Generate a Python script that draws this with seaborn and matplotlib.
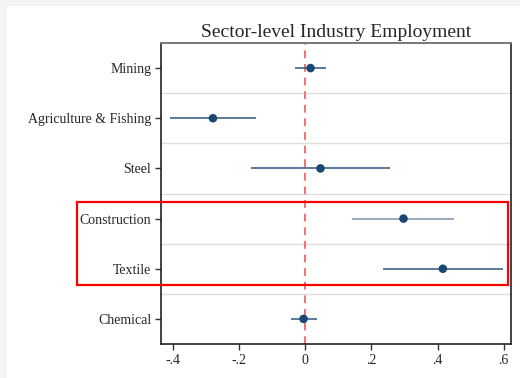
"""
Coefficient plot: sector-level industry employment
"""
import matplotlib
matplotlib.use('Agg')
import matplotlib.pyplot as plt
from matplotlib.patches import Rectangle
import seaborn as sns
import pandas as pd

sectors = ["Mining", "Agriculture & Fishing", "Steel", "Construction", "Textile", "Chemical"]
coef = [0.016, -0.279, 0.046, 0.297, 0.416, -0.005]
ci_low = [-0.031, -0.408, -0.164, 0.141, 0.236, -0.044]
ci_high = [0.063, -0.149, 0.256, 0.451, 0.598, 0.035]
x_ticks = [-0.4, -0.2, 0, 0.2, 0.4, 0.6]
x_labels = ["-.4", "-.2", "0", ".2", ".4", ".6"]

df = pd.DataFrame({"sector": sectors, "coef": coef, "lo": ci_low, "hi": ci_high})
df["pos"] = range(len(df))

sns.set_style("white")
plt.rcParams['font.family'] = ['Liberation Serif', 'DejaVu Serif']

fig = plt.figure(figsize=(5.2, 3.78), dpi=100, facecolor='#f4f4f4')
# white panel inside the light grey outer border
fig.patches.append(Rectangle((7 / 520, 0), 1, 372 / 378, transform=fig.transFigure,
                             facecolor='white', edgecolor='none', zorder=-10))
ax = fig.add_axes([161 / 520, 34 / 378, 350 / 520, 301 / 378])
ax.set_facecolor('white')

# confidence intervals
line_colors = ['#2b5680'] * len(df)
line_colors[3] = '#7893ab'
ax.hlines(df["pos"], df["lo"], df["hi"], colors=line_colors, linewidth=1.1, zorder=2)

sns.scatterplot(data=df, x="coef", y="pos", ax=ax, color='#1b4872', s=38,
                edgecolor='none', zorder=3, legend=False)

ax.axvline(0, color='#f77070', linestyle=(0, (4, 3)), linewidth=1.4, zorder=1)

# separators between sectors
for k in range(len(df) - 1):
    ax.axhline(k + 0.5, color='#dddddd', linewidth=1.0, zorder=0)

ax.set_ylim(len(df) - 0.5, -0.5)
ax.set_yticks(df["pos"])
ax.set_yticklabels(sectors, fontsize=10)
ax.set_xlim(-0.436, 0.622)
ax.set_xticks(x_ticks)
ax.set_xticklabels(x_labels, fontsize=10)
ax.set_xlabel("")
ax.set_ylabel("")
ax.tick_params(axis='both', length=4, width=1, color='#333333', direction='out',
               left=True, bottom=True, pad=3)

for side in ['left', 'bottom', 'right']:
    ax.spines[side].set_color('#222222')
    ax.spines[side].set_linewidth(1.2)
ax.spines['top'].set_color('#777777')
ax.spines['top'].set_linewidth(1.4)

ax.set_title("Sector-level Industry Employment", fontsize=14, pad=4)

# highlight box around Construction and Textile
fig.patches.append(Rectangle((77 / 520, (378 - 285) / 378), (508 - 77) / 520, (285 - 202) / 378,
                             transform=fig.transFigure, fill=False, edgecolor='#ff0000',
                             linewidth=1.6, zorder=5))

fig.savefig('out.png', dpi=100, facecolor=fig.get_facecolor())
plt.close(fig)
